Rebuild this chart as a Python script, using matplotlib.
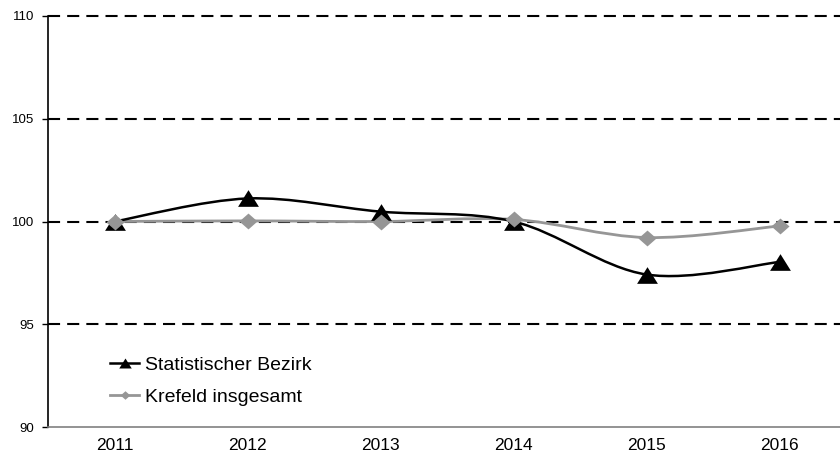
import matplotlib
matplotlib.use("Agg")
import matplotlib.pyplot as plt
from matplotlib.path import Path
from matplotlib.patches import PathPatch
from matplotlib.lines import Line2D

years = ["2011", "2012", "2013", "2014", "2015", "2016"]
bezirk = [100.0, 101.12, 100.48, 100.0, 97.42, 98.03]
krefeld = [100.0, 100.03, 100.0, 100.1, 99.22, 99.78]
yticks = [90, 95, 100, 105, 110]

plt.rcParams['font.family'] = ['Liberation Sans', 'DejaVu Sans']

fig = plt.figure(figsize=(8.4, 4.63), dpi=100)
ax = fig.add_axes([48/840, 36/463, 798/840, 411/463])

def smooth_path(xs, ys):
    pts = list(zip(xs, ys))
    verts = [pts[0]]
    codes = [Path.MOVETO]
    n = len(pts)
    for i in range(n - 1):
        p0 = pts[i - 1] if i > 0 else pts[i]
        p1 = pts[i]
        p2 = pts[i + 1]
        p3 = pts[i + 2] if i + 2 < n else pts[i + 1]
        c1 = (p1[0] + (p2[0] - p0[0]) / 6, p1[1] + (p2[1] - p0[1]) / 6)
        c2 = (p2[0] - (p3[0] - p1[0]) / 6, p2[1] - (p3[1] - p1[1]) / 6)
        verts += [c1, c2, p2]
        codes += [Path.CURVE4] * 3
    return Path(verts, codes)

tri = [(-1, -0.8), (1, -0.8), (0, 0.8)]
dia = [(0, 0.88), (1, 0), (0, -0.88), (-1, 0)]

x = list(range(len(years)))
for gy in [95, 100, 105, 110]:
    ax.axhline(gy, color='black', lw=1.5, ls=(0, (5.8, 3.4)), zorder=1, clip_on=False)

ax.add_patch(PathPatch(smooth_path(x, bezirk), fill=False, edgecolor='black', lw=1.8, zorder=3))
ax.add_patch(PathPatch(smooth_path(x, krefeld), fill=False, edgecolor='#969696', lw=2.0, zorder=2))
ax.plot(x, bezirk, ls='none', marker=tri, ms=15, color='black', mew=0, zorder=4)
ax.plot(x, krefeld, ls='none', marker=dia, ms=13, color='#969696', mew=0, zorder=5)

ax.set_xlim(-0.5, 5.5)
ax.set_ylim(90, 110)
ax.set_yticks(yticks)
ax.set_yticklabels([str(v) for v in yticks], fontsize=9.5)
ax.set_xticks(x)
ax.set_xticklabels(years, fontsize=12.5)
ax.tick_params(axis='x', length=0, pad=8)
ax.tick_params(axis='y', length=4, width=1, direction='out', pad=6)
for s in ['top', 'right']:
    ax.spines[s].set_visible(False)
ax.spines['left'].set_color('black')
ax.spines['left'].set_linewidth(1.2)
ax.spines['bottom'].set_color('#808080')
ax.spines['bottom'].set_linewidth(1.2)

h1 = Line2D([], [], color='black', lw=1.8, marker=tri, ms=9, mew=0)
h2 = Line2D([], [], color='#969696', lw=2.0, marker=dia, ms=7, mew=0)
ax.legend([h1, h2], ["Statistischer Bezirk", "Krefeld insgesamt"], loc='upper left',
          bbox_to_anchor=(0.0777, 0.172), frameon=False, fontsize=14, handlelength=1.5,
          handletextpad=0.3, labelspacing=0.72, borderaxespad=0, borderpad=0)

fig.savefig("out.png", dpi=100)
